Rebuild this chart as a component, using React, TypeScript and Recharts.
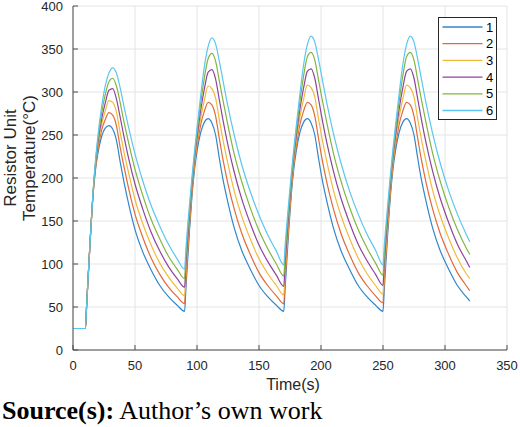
import { LineChart, Line, XAxis, YAxis, CartesianGrid, Legend } from 'recharts';

// time stamps (s): start flat, then four heating / cooling cycles
const times = [
  0,
  10, 11, 12, 14, 16, 18, 20, 23, 26, 29, 32, 35, 38, 41, 45, 50, 56, 63, 70, 77, 84,
  90, 91, 92, 94, 96, 98, 100, 103, 106, 109, 112, 115, 118, 121, 125, 130, 136, 143, 150, 157, 164,
  170, 171, 172, 174, 176, 178, 180, 183, 186, 189, 192, 195, 198, 201, 205, 210, 216, 223, 230, 237, 244,
  250, 251, 252, 254, 256, 258, 260, 263, 266, 269, 272, 275, 278, 281, 285, 290, 296, 303, 310, 317, 320,
];

const unit1 = [
  25,
  25, 52, 79, 131, 177, 208, 228, 248, 258, 261, 257, 244, 219, 196, 169, 140, 115, 93, 75, 62, 52,
  45, 70, 94, 140, 180, 210, 231, 253, 265, 269, 264, 250, 223, 198, 171, 142, 116, 94, 75, 62, 52,
  45, 70, 94, 140, 180, 210, 231, 253, 265, 269, 264, 250, 223, 198, 171, 142, 116, 94, 75, 62, 52,
  45, 70, 94, 140, 180, 210, 231, 253, 265, 269, 264, 250, 223, 198, 171, 142, 116, 94, 75, 62, 57,
];
const unit2 = [
  25,
  25, 52, 79, 131, 178, 210, 232, 255, 268, 276, 273, 261, 236, 214, 187, 158, 132, 107, 88, 73, 62,
  54, 79, 102, 146, 184, 214, 236, 262, 278, 288, 285, 272, 246, 221, 193, 164, 136, 111, 90, 75, 63,
  54, 79, 102, 146, 184, 214, 236, 262, 278, 288, 285, 272, 246, 221, 193, 164, 136, 111, 90, 75, 63,
  55, 79, 102, 146, 184, 214, 236, 262, 278, 288, 285, 272, 246, 221, 193, 164, 136, 111, 90, 75, 69,
];
const unit3 = [
  25,
  25, 52, 79, 131, 178, 212, 236, 262, 278, 290, 288, 277, 253, 231, 205, 175, 148, 122, 101, 85, 72,
  63, 89, 111, 152, 189, 218, 242, 270, 291, 307, 304, 293, 268, 244, 216, 185, 156, 129, 106, 89, 75,
  64, 89, 111, 152, 189, 219, 242, 271, 292, 308, 305, 294, 269, 245, 217, 186, 157, 130, 107, 89, 75,
  65, 89, 111, 152, 189, 219, 242, 271, 292, 308, 305, 294, 269, 245, 217, 186, 157, 130, 107, 89, 83,
];
const unit4 = [
  25,
  25, 52, 79, 131, 179, 214, 240, 268, 287, 302, 304, 292, 271, 249, 222, 193, 165, 137, 115, 97, 83,
  73, 98, 119, 158, 193, 223, 247, 279, 304, 323, 326, 315, 291, 267, 238, 207, 176, 147, 122, 103, 87,
  74, 99, 120, 159, 194, 224, 248, 280, 305, 324, 327, 316, 292, 268, 239, 208, 177, 148, 123, 104, 88,
  75, 99, 120, 159, 194, 224, 248, 280, 305, 324, 327, 316, 292, 268, 239, 208, 177, 148, 123, 104, 96,
];
const unit5 = [
  25,
  25, 52, 79, 131, 179, 216, 244, 275, 297, 312, 316, 307, 288, 266, 240, 210, 181, 152, 129, 109, 94,
  83, 108, 128, 164, 198, 227, 253, 287, 317, 339, 345, 336, 313, 290, 261, 228, 196, 165, 139, 118, 100,
  86, 110, 130, 166, 199, 228, 254, 289, 319, 341, 346, 337, 314, 291, 262, 229, 197, 166, 140, 119, 101,
  87, 110, 130, 166, 199, 228, 254, 289, 319, 341, 346, 337, 314, 291, 262, 229, 197, 166, 140, 119, 111,
];
const unit6 = [
  25,
  25, 52, 79, 131, 180, 218, 248, 282, 307, 322, 328, 322, 305, 284, 258, 228, 198, 168, 144, 123, 106,
  94, 116, 136, 170, 202, 231, 258, 296, 330, 353, 363, 356, 336, 313, 283, 250, 216, 184, 157, 134, 115,
  99, 120, 139, 172, 204, 233, 260, 298, 332, 355, 365, 358, 338, 315, 285, 252, 218, 185, 158, 135, 116,
  99, 120, 139, 172, 204, 233, 260, 298, 332, 355, 365, 358, 338, 315, 285, 252, 218, 185, 158, 135, 126,
];

const seriesNames = ['1', '2', '3', '4', '5', '6'];
const seriesColors = ['#2f86cc', '#e06a3a', '#f1bb3a', '#8e449c', '#82b540', '#5cc6f0'];
const xTicks = [0, 50, 100, 150, 200, 250, 300, 350];
const yTicks = [0, 50, 100, 150, 200, 250, 300, 350, 400];

const unitValues = [unit1, unit2, unit3, unit4, unit5, unit6];
const data = times.map((t, i) => {
  const row: Record<string, number> = { t };
  unitValues.forEach((vals, k) => {
    row['u' + (k + 1)] = vals[i];
  });
  return row;
});

const SANS = '"Liberation Sans", Arial, Helvetica, sans-serif';
const AXIS = '#4d4d4d';
const TEXT = '#262626';

function renderYLabel() {
  const cy = 158;
  return (
    <g fontFamily={SANS} fontSize={17} fill={TEXT}>
      <text x={15.5} y={cy} transform={`rotate(-90 15.5 ${cy})`} textAnchor="middle">
        Resistor Unit
      </text>
      <text x={35} y={cy} transform={`rotate(-90 35 ${cy})`} textAnchor="middle">
        Temperature(°C)
      </text>
    </g>
  );
}

function renderXLabel() {
  return (
    <text x={293} y={390} textAnchor="middle" fontFamily={SANS} fontSize={16} fill={TEXT}>
      Time(s)
    </text>
  );
}

function renderLegend(props: any) {
  const items = props.payload || [];
  return (
    <svg width={59} height={103} style={{ display: 'block' }}>
      <rect x={0.5} y={0.5} width={58} height={102} fill="#fff" stroke={TEXT} strokeWidth={1} />
      {items.map((item: any, i: number) => {
        const y = 10 + i * 16.7;
        return (
          <g key={item.value}>
            <line x1={4.5} x2={44.5} y1={y} y2={y} stroke={item.color} strokeWidth={1.3} />
            <text x={48} y={y} dy="0.35em" fontFamily={SANS} fontSize={13} fill="#000">
              {item.value}
            </text>
          </g>
        );
      })}
    </svg>
  );
}

export default function App() {
  return (
    <div
      style={{
        position: 'absolute',
        left: 0,
        top: 0,
        width: 520,
        height: 427,
        background: '#fff',
        overflow: 'hidden',
      }}
    >
      <LineChart width={520} height={400} data={data} margin={{ top: 6, right: 13, bottom: 0, left: 0 }}>
        <CartesianGrid stroke="#e4e4e4" strokeWidth={1} />
        <XAxis
          type="number"
          dataKey="t"
          domain={[0, 350]}
          ticks={xTicks}
          interval={0}
          height={50}
          tickSize={-5}
          tickMargin={16}
          axisLine={{ stroke: AXIS }}
          tickLine={{ stroke: AXIS }}
          tick={{ fill: TEXT, fontSize: 13, fontFamily: SANS }}
          label={renderXLabel}
        />
        <XAxis
          xAxisId="top"
          orientation="top"
          type="number"
          domain={[0, 350]}
          ticks={xTicks}
          interval={0}
          height={0}
          tickSize={-5}
          tick={false}
          axisLine={{ stroke: AXIS }}
          tickLine={{ stroke: AXIS }}
        />
        <YAxis
          type="number"
          domain={[0, 400]}
          ticks={yTicks}
          interval={0}
          width={73}
          tickSize={-5}
          tickMargin={15}
          axisLine={{ stroke: AXIS }}
          tickLine={{ stroke: AXIS }}
          tick={{ fill: TEXT, fontSize: 13, fontFamily: SANS }}
          label={renderYLabel}
        />
        <YAxis
          yAxisId="right"
          orientation="right"
          type="number"
          domain={[0, 400]}
          ticks={yTicks}
          interval={0}
          width={0}
          tickSize={-5}
          tick={false}
          axisLine={{ stroke: AXIS }}
          tickLine={{ stroke: AXIS }}
        />
        <Legend
          layout="vertical"
          align="center"
          verticalAlign="middle"
          wrapperStyle={{ top: 17, left: 438, width: 59, height: 103 }}
          content={renderLegend}
        />
        {seriesNames.map((name, k) => (
          <Line
            key={name}
            type="monotone"
            dataKey={'u' + (k + 1)}
            name={name}
            stroke={seriesColors[k]}
            strokeWidth={1.2}
            dot={false}
            activeDot={false}
            isAnimationActive={false}
          />
        ))}
      </LineChart>
      <div
        style={{
          position: 'absolute',
          left: 2,
          top: 396,
          fontFamily: '"Liberation Serif", "Times New Roman", serif',
          fontSize: 26,
          lineHeight: '30px',
          color: '#000',
          whiteSpace: 'nowrap',
        }}
      >
        <b>Source(s):</b> Author’s own work
      </div>
    </div>
  );
}
